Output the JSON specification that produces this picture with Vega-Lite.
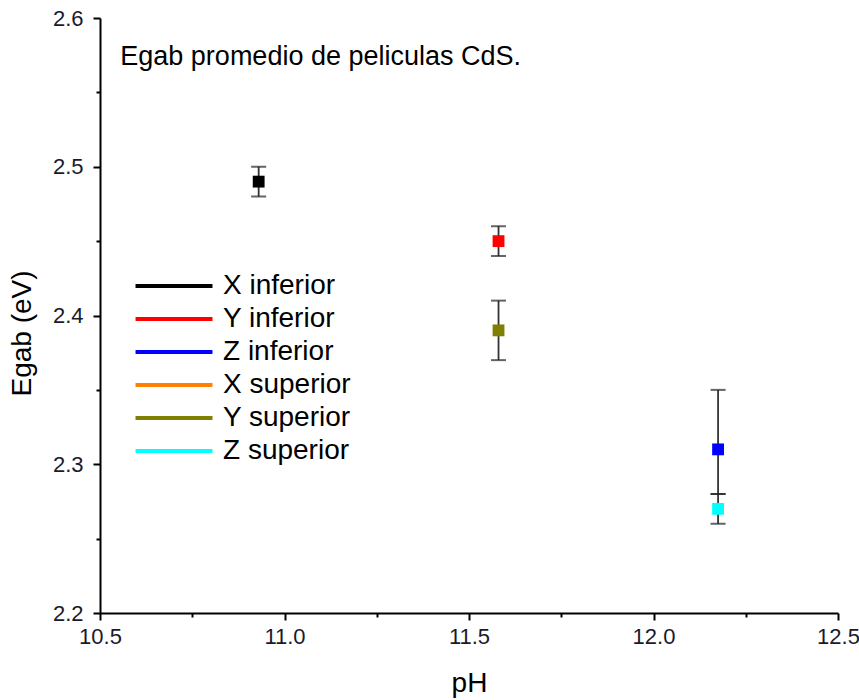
{
  "$schema": "https://vega.github.io/schema/vega-lite/v6.json",
  "width": 738,
  "height": 595,
  "autosize": {"type": "none"},
  "padding": {"left": 100, "top": 18, "right": 21, "bottom": 87},
  "background": "white",
  "config": {
    "view": {"stroke": null},
    "font": "Liberation Sans",
    "axis": {"grid": false, "domainColor": "black", "domainWidth": 2, "tickColor": "black", "tickWidth": 2, "titleColor": "black", "titleFontWeight": "normal", "labelFlush": false}
  },
  "resolve": {"axis": {"x": "independent", "y": "independent"}},
  "datasets": {
    "pts": [
      {"series": "X inferior", "pH": 10.93, "Egab": 2.49, "lo": 2.48, "hi": 2.50},
      {"series": "Y inferior", "pH": 11.58, "Egab": 2.45, "lo": 2.44, "hi": 2.46},
      {"series": "Y superior", "pH": 11.58, "Egab": 2.39, "lo": 2.37, "hi": 2.41},
      {"series": "Z inferior", "pH": 12.175, "Egab": 2.31, "lo": 2.28, "hi": 2.35},
      {"series": "Z superior", "pH": 12.175, "Egab": 2.27, "lo": 2.26, "hi": 2.28}
    ],
    "note": [{"label": "Egab promedio de peliculas CdS.", "px": 10.555, "py": 2.574}]
  },
  "layer": [
    {
      "data": {"name": "pts"},
      "mark": {"type": "rule", "color": "#333", "strokeWidth": 1.8},
      "encoding": {
        "x": {"field": "pH", "type": "quantitative", "scale": {"domain": [10.5, 12.5], "nice": false, "zero": false},
          "axis": {"title": "pH", "orient": "bottom", "values": [10.5, 11.0, 11.5, 12.0, 12.5], "format": ".1f", "tickSize": 7, "labelPadding": 6, "labelFontSize": 22, "labelFlush": false, "labelColor": "#1a1a2a", "titleFontSize": 28, "titlePadding": 22}},
        "y": {"field": "lo", "type": "quantitative", "scale": {"domain": [2.2, 2.6], "nice": false, "zero": false},
          "axis": {"title": "Egab (eV)", "orient": "left", "values": [2.2, 2.3, 2.4, 2.5, 2.6], "format": ".1f", "tickSize": 7, "labelPadding": 10, "labelFontSize": 22, "labelFlush": false, "labelColor": "#1a1a2a", "titleFontSize": 28, "titlePadding": 16, "titleY": 315}},
        "y2": {"field": "hi"}
      }
    },
    {
      "data": {"name": "pts"},
      "mark": {"type": "tick", "orient": "horizontal", "color": "#222", "size": 15, "thickness": 2},
      "encoding": {
        "x": {"field": "pH", "type": "quantitative",
          "axis": {"title": null, "orient": "bottom", "values": [10.75, 11.25, 11.75, 12.25], "labels": false, "domain": false, "tickSize": 4}},
        "y": {"field": "lo", "type": "quantitative",
          "axis": {"title": null, "orient": "left", "values": [2.25, 2.35, 2.45, 2.55], "labels": false, "domain": false, "tickSize": 4}}
      }
    },
    {
      "data": {"name": "pts"},
      "mark": {"type": "tick", "orient": "horizontal", "color": "#222", "size": 15, "thickness": 2},
      "encoding": {
        "x": {"field": "pH", "type": "quantitative", "axis": null},
        "y": {"field": "hi", "type": "quantitative", "axis": null}
      }
    },
    {
      "data": {"name": "pts"},
      "mark": {"type": "point", "shape": "square", "filled": true, "opacity": 1, "size": 140},
      "encoding": {
        "x": {"field": "pH", "type": "quantitative", "axis": null},
        "y": {"field": "Egab", "type": "quantitative", "axis": null},
        "color": {
          "field": "series", "type": "nominal",
          "scale": {"domain": ["X inferior", "Y inferior", "Z inferior", "X superior", "Y superior", "Z superior"],
                    "range": ["#000000", "#ff0000", "#0000ff", "#ff8000", "#808000", "#00ffff"]},
          "legend": {"title": null, "orient": "none", "legendX": 60, "legendY": 254, "padding": 0, "symbolType": "M-4,0H4", "symbolSize": 370, "rowPadding": 5, "labelFontSize": 28, "labelColor": "black", "labelOffset": 35, "symbolOpacity": 1,
            "encode": {"symbols": {"update": {"stroke": {"scale": "color", "field": "value"}, "strokeWidth": {"value": 4}, "fill": {"value": "transparent"}, "opacity": {"value": 1}}}}}
        }
      }
    },
    {
      "data": {"name": "note"},
      "mark": {"type": "text", "align": "left", "baseline": "middle", "fontSize": 27, "color": "black"},
      "encoding": {
        "x": {"field": "px", "type": "quantitative", "axis": null},
        "y": {"field": "py", "type": "quantitative", "axis": null},
        "text": {"field": "label"}
      }
    }
  ]
}
